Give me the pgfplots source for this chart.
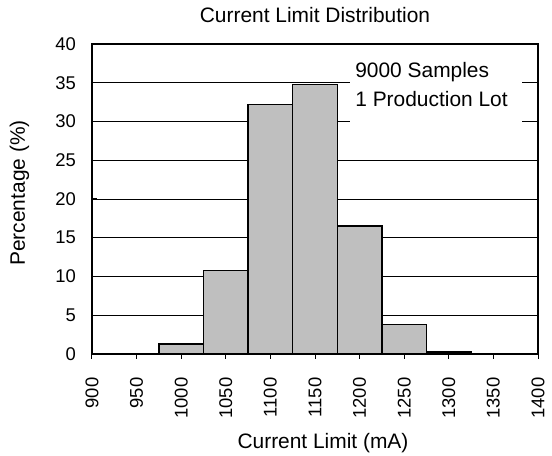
\documentclass[border=0pt]{standalone}
\usepackage{pgfplots}
\pgfplotsset{compat=1.18}
\usepackage{fontspec}
\setmainfont{Liberation Sans}
\newcommand{\tickfont}{\fontsize{18.5}{20}\selectfont}
\begin{document}
\begin{tikzpicture}
\begin{axis}[
    name=ax,
    scale only axis,
    width=446bp, height=310bp,
    xmin=900, xmax=1400,
    ymin=0, ymax=40,
    xtick={900,950,...,1400},
    ytick={0,5,...,40},
    ymajorgrids=true,
    grid style={black, line width=0.8pt},
    axis line style={line width=1.5pt},
    tick style={black, line width=1pt},
    xtick pos=bottom, ytick pos=left,
    major tick length=5bp,
    tick align=inside,
    /pgf/number format/assume math mode=true,
    /pgf/number format/1000 sep={},
    xticklabel={\tickfont\pgfmathprintnumber{\tick}},
    yticklabel={\tickfont\pgfmathprintnumber{\tick}},
    xticklabel style={rotate=90, anchor=east},
    xticklabel shift={15bp},
    yticklabel shift={12.5bp},
    title={Current Limit Distribution},
    title style={font=\fontsize{21}{24}\selectfont, anchor=base,
        at={([yshift=15.7bp]axis description cs:0.5,1)}},
    xlabel={Current Limit (mA)},
    xlabel style={anchor=base,
        at={([xshift=8bp,yshift=-95bp]axis description cs:0.5,0)}},
    ylabel={Percentage (\%)},
    ylabel style={anchor=base,
        at={([xshift=-67bp,yshift=6bp]axis description cs:0,0.5)}},
    label style={font=\fontsize{21}{24}\selectfont},
    ybar, bar width=50,
]
\addplot[fill=black!25, draw=black, line width=1.5pt] coordinates {
    (1000,1.3) (1050,10.8) (1100,32.2) (1150,34.8)
    (1200,16.5) (1250,3.8) (1300,0.25)
};
\fill[white] (axis cs:1189,29.75) rectangle (axis cs:1382,38.6);
\node[anchor=base west, inner sep=0pt, font=\fontsize{21}{24}\selectfont]
    at (axis cs:1195,35.74) {9000 Samples};
\node[anchor=base west, inner sep=0pt, font=\fontsize{21}{24}\selectfont]
    at (axis cs:1195,31.87) {1 Production Lot};
\end{axis}
\pgfresetboundingbox
\path ([shift={(-92bp,-102bp)}]ax.south west) rectangle ([shift={(14bp,44bp)}]ax.north east);
\end{tikzpicture}
\end{document}
